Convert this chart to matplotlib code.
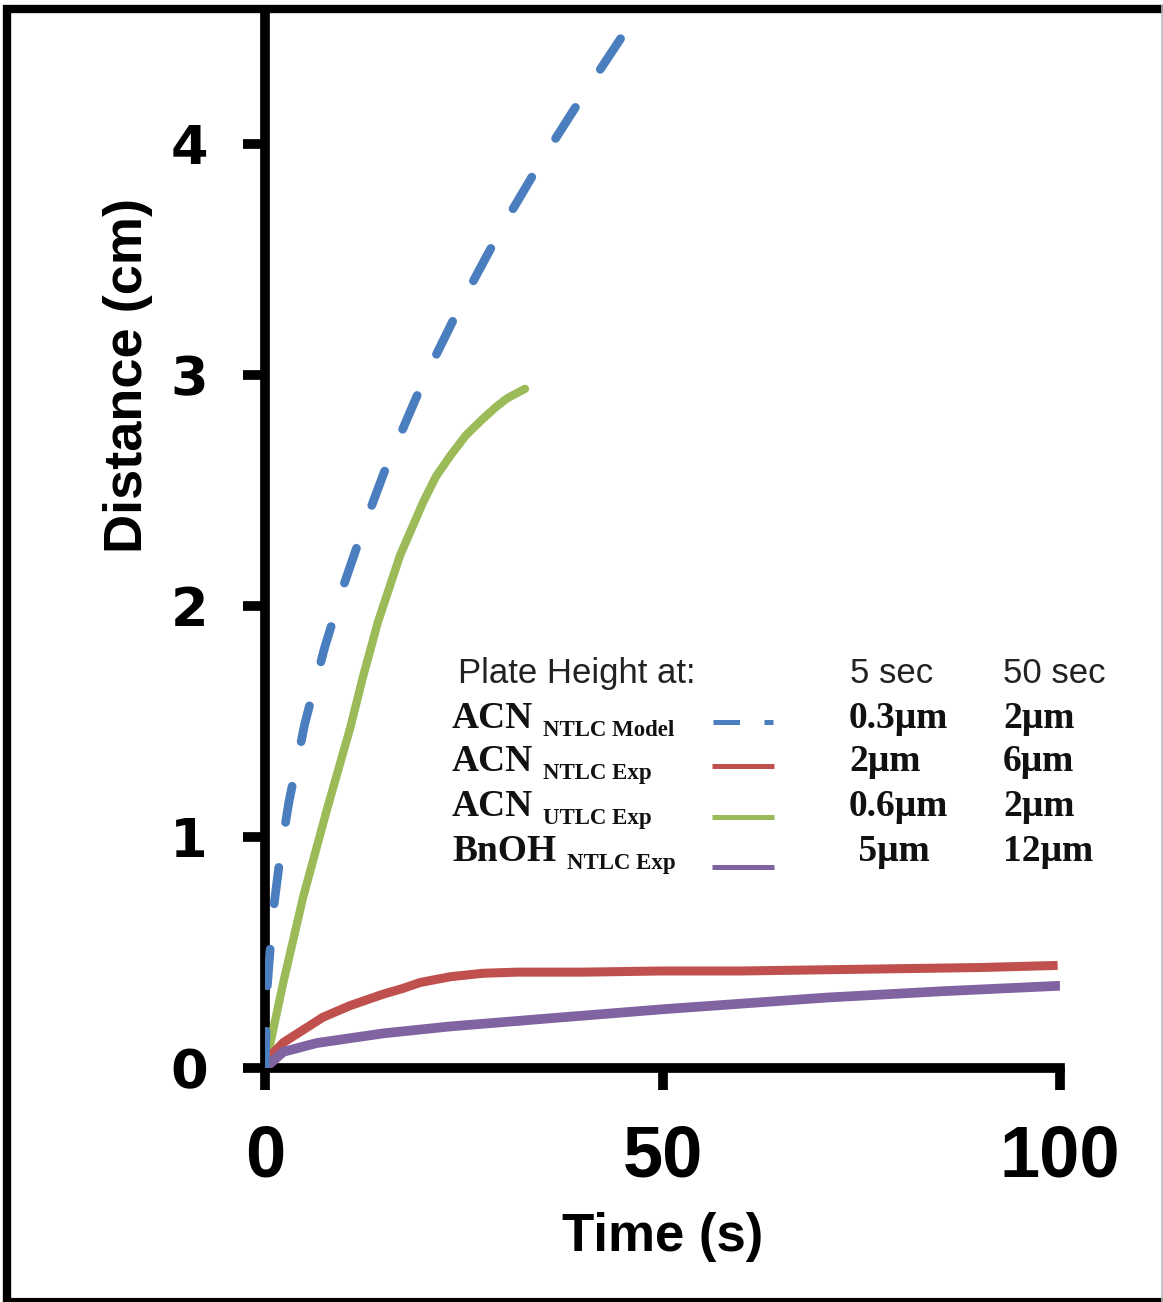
import matplotlib
matplotlib.use("Agg")
import matplotlib.pyplot as plt
from matplotlib.lines import Line2D

# ---------------- data ----------------
model_t = [0, 0.3, 1, 2, 3, 5, 7.5, 10, 12.5, 15, 20, 25, 30, 35, 40, 45, 48]
model_d = [0, 0.36, 0.67, 0.94, 1.15, 1.49, 1.82, 2.10, 2.35, 2.58, 2.98, 3.33, 3.65, 3.94, 4.21, 4.47, 4.61]

ntlc_t = [0, 0.6, 2.3, 4.8, 7.3, 10.7, 14.9, 17.4, 19.5, 23.3, 27.4, 31.7, 40, 50, 60, 70, 80, 90, 99.7]
ntlc_d = [0, 0.05, 0.11, 0.165, 0.22, 0.27, 0.32, 0.345, 0.37, 0.395, 0.41, 0.415, 0.415, 0.42, 0.42, 0.425, 0.43, 0.435, 0.444]

utlc_t = [0, 2.3, 4.8, 7.8, 10.7, 12.3, 14.2, 17.0, 19.9, 21.5, 23.3, 25.3, 27.4, 29.0, 30.5, 31.6, 32.7]
utlc_d = [0, 0.37, 0.74, 1.12, 1.47, 1.69, 1.93, 2.22, 2.45, 2.56, 2.65, 2.74, 2.81, 2.86, 2.90, 2.92, 2.94]

bnoh_t = [0, 2.3, 6.5, 14.9, 23.3, 35.8, 50.3, 70.7, 85, 100]
bnoh_d = [0, 0.07, 0.108, 0.15, 0.18, 0.215, 0.255, 0.305, 0.332, 0.356]

x_ticks = [0, 50, 100]
y_ticks = [0, 1, 2, 3, 4]

legend_main = ["ACN", "ACN", "ACN", "BnOH"]
legend_sub = ["NTLC Model", "NTLC Exp", "UTLC Exp", "NTLC Exp"]
col5 = ["0.3\u03bcm", "2\u03bcm", "0.6\u03bcm", " 5\u03bcm"]
col50 = ["2\u03bcm", "6\u03bcm", "2\u03bcm", "12\u03bcm"]

BLUE = "#4a7ebf"
RED = "#c0504d"
GREEN = "#9bbb59"
PURPLE = "#8064a2"

# ---------------- figure ----------------
W, H = 1163, 1302
fig = plt.figure(figsize=(W / 100, H / 100), dpi=100)
fig.patch.set_facecolor("white")


def fx(x):
    return x / W


def fy(y):
    return 1 - y / H


ax = fig.add_axes([fx(265), fy(1068), fx(1060) - fx(265), fy(10) - fy(1068)])
ax.set_xlim(0, 100)
ax.set_ylim(0, 4.58)

ax.plot(utlc_t, utlc_d, color=GREEN, lw=6, solid_capstyle="round",
        solid_joinstyle="round", zorder=3)
ax.plot(ntlc_t, ntlc_d, color=RED, lw=6.5, solid_capstyle="butt",
        solid_joinstyle="round", zorder=3)
ax.plot(bnoh_t, bnoh_d, color=PURPLE, lw=7, solid_capstyle="butt",
        solid_joinstyle="round", zorder=3)
ax.plot(model_t, model_d, color=BLUE, lw=6.3, dashes=(4.2, 5.2),
        dash_capstyle="round", zorder=4)

for s in ["top", "right"]:
    ax.spines[s].set_visible(False)
for s in ["left", "bottom"]:
    ax.spines[s].set_linewidth(7)
    ax.spines[s].set_color("black")

ax.set_xticks(x_ticks)
ax.set_yticks(y_ticks)
ax.tick_params(axis="both", direction="out", length=16, width=7, color="black")
ax.tick_params(axis="y", pad=25)
ax.tick_params(axis="x", pad=24)
for lab in ax.get_yticklabels():
    lab.set_fontfamily("DejaVu Sans")
    lab.set_fontweight("bold")
    lab.set_fontsize(39)
for lab in ax.get_xticklabels():
    lab.set_fontfamily("Liberation Sans")
    lab.set_fontweight("bold")
    lab.set_fontsize(52)

ax.set_xlabel("Time (s)", fontfamily="Liberation Sans", fontweight="bold", fontsize=38)
ax.xaxis.set_label_coords(0.5, (1068 - 1237) / 1058)
ax.xaxis.label.set_va("center")
ax.set_ylabel("Distance (cm)", fontfamily="Liberation Sans", fontweight="bold", fontsize=39)
ax.yaxis.set_label_coords((128 - 265) / 795, (1068 - 375) / 1058)
ax.yaxis.label.set_va("center")

# ---------------- custom legend table ----------------
hdr_kw = dict(fontfamily="Liberation Sans", fontsize=25, color="#222222", va="baseline")
fig.text(fx(458), fy(683), "Plate Height at:", **hdr_kw)
fig.text(fx(850), fy(683), "5 sec", **hdr_kw)
fig.text(fx(1003), fy(683), "50 sec", **hdr_kw)

serif = dict(fontfamily="Liberation Serif", fontweight="bold", color="#111111", va="baseline")
row_base = [728, 771, 816, 861]
sub_x = [543, 543, 543, 567]
line_y = [722, 766, 817, 867]
colors = [BLUE, RED, GREEN, PURPLE]

for i in range(4):
    fig.text(fx(452), fy(row_base[i]), legend_main[i], fontsize=27, **serif)
    fig.text(fx(sub_x[i]), fy(row_base[i] + 8), legend_sub[i], fontsize=16.5, **serif)
    fig.text(fx(849), fy(row_base[i]), col5[i], fontsize=27, **serif)
    fig.text(fx(1003), fy(row_base[i]), col50[i], fontsize=27, **serif)
    if i == 0:
        ln = Line2D([fx(713), fx(773)], [fy(line_y[i]), fy(line_y[i])],
                    transform=fig.transFigure, color=colors[i], lw=3.6,
                    dashes=(5.3, 4.9), solid_capstyle="butt", dash_capstyle="butt")
    else:
        ln = Line2D([fx(712), fx(774)], [fy(line_y[i]), fy(line_y[i])],
                    transform=fig.transFigure, color=colors[i], lw=3.6,
                    solid_capstyle="butt")
    fig.add_artist(ln)

# ---------------- outer frame ----------------
fig.add_artist(Line2D([fx(3), fx(1163)], [fy(9), fy(9)], transform=fig.transFigure,
                      color="black", lw=6, solid_capstyle="butt"))
fig.add_artist(Line2D([fx(7), fx(7)], [fy(5), fy(1302)], transform=fig.transFigure,
                      color="black", lw=6, solid_capstyle="butt"))
fig.add_artist(Line2D([fx(3), fx(1163)], [fy(1300), fy(1300)], transform=fig.transFigure,
                      color="black", lw=3, solid_capstyle="butt"))
fig.add_artist(Line2D([fx(1161.5), fx(1161.5)], [fy(5), fy(1302)], transform=fig.transFigure,
                      color="#bbbbbb", lw=1.2, solid_capstyle="butt"))

fig.savefig("out.png", dpi=100, facecolor="white")
